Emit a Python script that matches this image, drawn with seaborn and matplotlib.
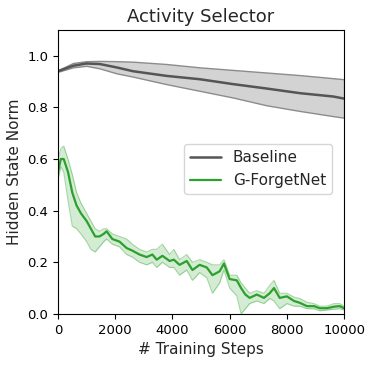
import numpy as np
import pandas as pd
import matplotlib
matplotlib.use("Agg")
import matplotlib.pyplot as plt
import seaborn as sns

# Baseline: mean and band edges
base_steps = [0, 525, 992, 1459, 2042, 2625, 3792, 4959, 6126, 7293, 8460, 9627, 10000]
base_mean = [0.940, 0.961, 0.970, 0.968, 0.955, 0.940, 0.922, 0.909, 0.890, 0.873, 0.855, 0.842, 0.834]
base_hi = [0.944, 0.972, 0.979, 0.980, 0.979, 0.977, 0.968, 0.955, 0.945, 0.935, 0.925, 0.913, 0.909]
base_lo = [0.938, 0.955, 0.961, 0.951, 0.932, 0.919, 0.890, 0.864, 0.838, 0.808, 0.786, 0.766, 0.760]

# G-ForgetNet: mean and band edges
gf_steps = [0, 100, 200, 350, 500, 650, 800, 1000, 1150, 1300, 1450, 1600, 1700, 1900,
            2150, 2400, 2600, 2850, 3100, 3300, 3450, 3650, 3900, 4050, 4250, 4500,
            4700, 4950, 5200, 5400, 5650, 5800, 6000, 6250, 6400, 6550, 6700, 6950,
            7200, 7400, 7550, 7750, 8000, 8250, 8450, 8700, 8950, 9150, 9400, 9650,
            9850, 10000]
gf_mean = [0.55, 0.60, 0.60, 0.55, 0.47, 0.42, 0.39, 0.36, 0.33, 0.30, 0.30, 0.31, 0.32, 0.29,
           0.28, 0.255, 0.245, 0.23, 0.22, 0.23, 0.21, 0.225, 0.205, 0.21, 0.19, 0.205,
           0.17, 0.19, 0.18, 0.15, 0.165, 0.195, 0.135, 0.13, 0.10, 0.075, 0.062, 0.075,
           0.062, 0.08, 0.10, 0.062, 0.068, 0.05, 0.043, 0.03, 0.03, 0.022, 0.022, 0.028,
           0.03, 0.022]
gf_lo = [0.52, 0.57, 0.55, 0.44, 0.34, 0.33, 0.31, 0.28, 0.25, 0.24, 0.26, 0.28, 0.29, 0.27,
         0.26, 0.23, 0.22, 0.20, 0.19, 0.20, 0.18, 0.20, 0.18, 0.18, 0.15, 0.17,
         0.13, 0.16, 0.14, 0.08, 0.12, 0.17, 0.10, 0.07, 0.00, 0.02, 0.04, 0.05,
         0.04, 0.06, 0.05, 0.02, 0.04, 0.03, 0.03, 0.02, 0.02, 0.012, 0.015, 0.018,
         0.02, 0.015]
gf_hi = [0.60, 0.64, 0.65, 0.60, 0.54, 0.47, 0.43, 0.39, 0.36, 0.33, 0.32, 0.33, 0.33, 0.31,
         0.30, 0.29, 0.27, 0.25, 0.24, 0.25, 0.25, 0.27, 0.23, 0.25, 0.21, 0.23,
         0.20, 0.21, 0.20, 0.19, 0.19, 0.21, 0.15, 0.15, 0.12, 0.10, 0.08, 0.09,
         0.08, 0.11, 0.13, 0.08, 0.08, 0.065, 0.06, 0.045, 0.04, 0.03, 0.03, 0.04,
         0.04, 0.03]

sns.set_style("ticks")
plt.rcParams["font.family"] = ["DejaVu Sans"]

fig, ax = plt.subplots(figsize=(3.74, 3.65), dpi=100)
fig.subplots_adjust(left=0.155, right=0.92, bottom=0.14, top=0.918)

base = pd.DataFrame({"step": base_steps, "mean": base_mean})
gf = pd.DataFrame({"step": gf_steps, "mean": gf_mean})

ax.fill_between(base_steps, base_lo, base_hi, facecolor="#d3d3d3", edgecolor="#8c8c8c", linewidth=1)
ax.fill_between(gf_steps, gf_lo, gf_hi, facecolor="#2ca02c", alpha=0.2, linewidth=0)
ax.plot(gf_steps, gf_lo, color="#2ca02c", alpha=0.4, linewidth=0.8)
ax.plot(gf_steps, gf_hi, color="#2ca02c", alpha=0.4, linewidth=0.8)

sns.lineplot(data=base, x="step", y="mean", ax=ax, color="#555555", linewidth=1.8, label="Baseline")
sns.lineplot(data=gf, x="step", y="mean", ax=ax, color="#2ca02c", linewidth=1.6, label="G-ForgetNet")

ax.set_xlim(0, 10000)
ax.set_ylim(0, 1.1)
ax.set_xticks([0, 2000, 4000, 6000, 8000, 10000])
ax.set_yticks([0.0, 0.2, 0.4, 0.6, 0.8, 1.0])
ax.tick_params(labelsize=9.5, colors="black")
for s in ax.spines.values():
    s.set_color("black")
ax.set_title("Activity Selector", fontsize=13)
ax.set_xlabel("# Training Steps", fontsize=11)
ax.set_ylabel("Hidden State Norm", fontsize=11)
ax.legend(loc="center right", bbox_to_anchor=(0.985, 0.51), fontsize=11)

plt.savefig("out.png", dpi=100)
